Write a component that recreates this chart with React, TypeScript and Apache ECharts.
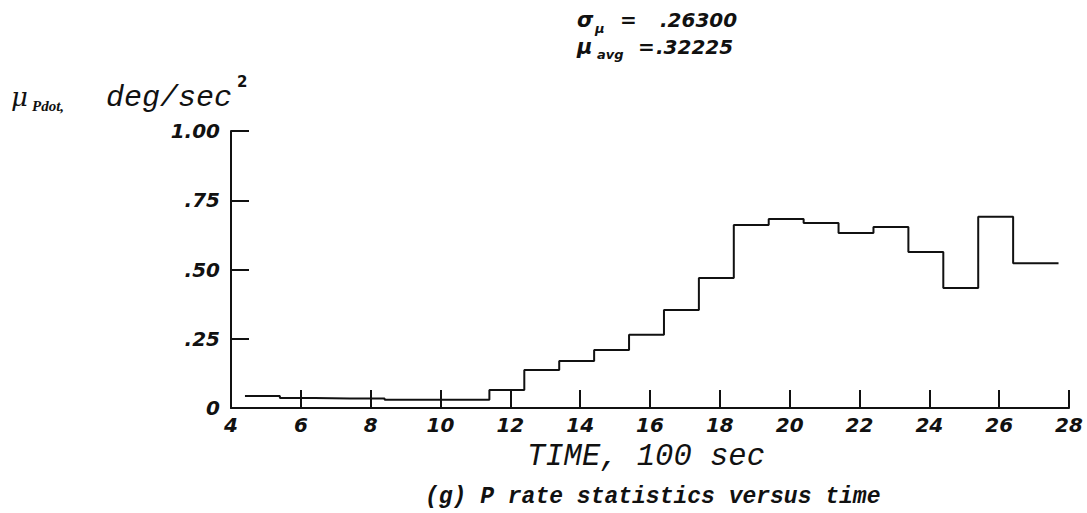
import React, { useEffect, useRef } from "react";
import * as echarts from "echarts";

// Bin edges (TIME, 100 sec) and step values (deg/sec^2)
const binEdges = [4.4, 5.4, 6.4, 7.4, 8.4, 9.4, 10.4, 11.4, 12.4, 13.4, 14.4, 15.4, 16.4, 17.4, 18.4, 19.4, 20.4, 21.4, 22.4, 23.4, 24.4, 25.4, 26.4, 27.7];
const muValues = [0.043, 0.036, 0.034, 0.034, 0.030, 0.030, 0.030, 0.065, 0.137, 0.170, 0.209, 0.264, 0.354, 0.469, 0.661, 0.682, 0.668, 0.632, 0.653, 0.563, 0.433, 0.690, 0.523];
const yTickLabels: Record<string, string> = { "0": "0", "0.25": ".25", "0.5": ".50", "0.75": ".75", "1": "1.00" };
const sigmaText = ".26300";
const avgText = ".32225";

function txt(x: number, y: number, text: string, family: string, size: number, style: string, weight: string) {
  return {
    type: "text",
    x,
    y,
    style: {
      text,
      fontFamily: family,
      fontSize: size,
      fontStyle: style,
      fontWeight: weight,
      fill: "#111",
      align: "left",
      verticalAlign: "middle",
    },
  };
}

export default function App() {
  const ref = useRef<HTMLDivElement>(null);
  useEffect(() => {
    if (!ref.current) return;
    const chart = echarts.init(ref.current, null, { renderer: "svg" });
    const pts: number[][] = muValues.map((v, i) => [binEdges[i], v]);
    pts.push([binEdges[binEdges.length - 1], muValues[muValues.length - 1]]);
    const lab = { fontFamily: "DejaVu Sans", fontStyle: "italic", fontWeight: "bold", fontSize: 20, color: "#111" };
    chart.setOption({
      animation: false,
      backgroundColor: "#fff",
      grid: { left: 231, right: 18, top: 131, bottom: 105 },
      xAxis: {
        type: "value", min: 4, max: 28, interval: 2,
        axisLine: { show: true, lineStyle: { color: "#111", width: 2 } },
        axisTick: { show: true, inside: true, length: 18, lineStyle: { color: "#111", width: 2 } },
        axisLabel: { ...lab, margin: 7 },
        splitLine: { show: false },
      },
      yAxis: {
        type: "value", min: 0, max: 1, interval: 0.25,
        axisLine: { show: true, lineStyle: { color: "#111", width: 2 } },
        axisTick: { show: true, inside: true, length: 18, lineStyle: { color: "#111", width: 2 } },
        axisLabel: { ...lab, margin: 11, formatter: (v: number) => yTickLabels[String(v)] ?? String(v) },
        splitLine: { show: false },
      },
      series: [
        {
          type: "line", step: "end", data: pts, showSymbol: false, symbol: "none",
          lineStyle: { color: "#111", width: 2 },
        },
      ],
      graphic: [
        // top statistics
        txt(577, 20, "σ", "DejaVu Sans", 21, "italic", "bold"),
        txt(595, 28, "μ", "DejaVu Sans", 13, "italic", "bold"),
        txt(620, 20, "=", "DejaVu Sans", 20, "italic", "bold"),
        txt(660, 20, sigmaText, "DejaVu Sans", 20, "italic", "bold"),
        txt(577, 47, "μ", "DejaVu Sans", 21, "italic", "bold"),
        txt(597, 54, "avg", "DejaVu Sans", 13, "italic", "bold"),
        txt(638, 47, "=", "DejaVu Sans", 20, "italic", "bold"),
        txt(656, 47, avgText, "DejaVu Sans", 20, "italic", "bold"),
        // y axis title
        txt(11, 97, "μ", "DejaVu Serif", 26, "italic", "normal"),
        txt(32, 106, "Pdot,", "Liberation Serif", 15, "italic", "bold"),
        txt(106, 98, "deg/sec", "Liberation Mono", 30, "italic", "normal"),
        txt(237, 82, "2", "DejaVu Sans", 15, "normal", "bold"),
        // x axis title and caption
        txt(527, 457, "TIME, 100 sec", "Liberation Mono", 30.5, "italic", "normal"),
        txt(425, 497, "(g) P rate statistics versus time", "Liberation Mono", 23, "italic", "bold"),
      ],
    });
    return () => chart.dispose();
  }, []);
  return <div ref={ref} style={{ position: "absolute", left: 0, top: 0, width: 1087, height: 513 }} />;
}
